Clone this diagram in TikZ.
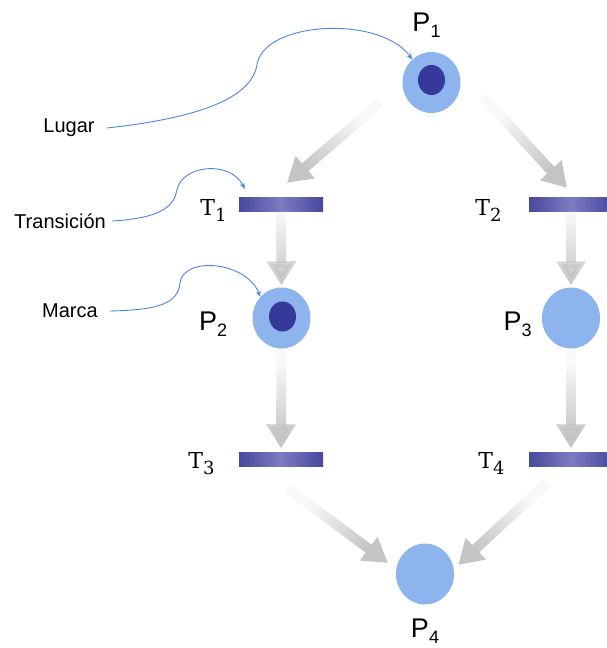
\documentclass[tikz,border=0pt]{standalone}
\usepackage{fontspec}
\newfontfamily\arialfont{Liberation Sans}
\newfontfamily\tserif{DejaVu Serif}
\usetikzlibrary{arrows.meta,positioning,calc,shapes.geometric,fadings}
\definecolor{placeblue}{RGB}{141,180,236}
\definecolor{tokenblue}{RGB}{54,57,154}
\definecolor{transdark}{RGB}{72,72,158}
\definecolor{translight}{RGB}{124,124,194}
\definecolor{notelink}{RGB}{74,134,232}
\definecolor{flowgray}{RGB}{196,196,196}
\newcommand{\subidx}[1]{\raisebox{-6pt}{\fontsize{18}{18}\selectfont #1}}
\begin{tikzfadingfrompicture}[name=arrowfade]
  \fill[transparent!90] (-400bp,-400bp) rectangle (-38bp,400bp);
  \shade[left color=transparent!90, right color=transparent!0] (-38bp,-400bp) rectangle (38bp,400bp);
  \fill[transparent!0] (38bp,-400bp) rectangle (400bp,400bp);
\end{tikzfadingfrompicture}
\tikzset{
  place/.style={ellipse, fill=placeblue, minimum width=58pt, minimum height=61pt, inner sep=0pt},
  token/.style={ellipse, fill=tokenblue, minimum width=27pt, minimum height=30pt, inner sep=0pt},
  trans/.style={rectangle, minimum width=84pt, minimum height=14pt, inner sep=0pt,
    left color=transdark, right color=transdark, middle color=translight},
  plabel/.style={font=\arialfont\fontsize{27}{30}\selectfont, inner sep=0pt},
  tlabel/.style={font=\tserif\fontsize{22}{26}\selectfont, inner sep=0pt},
  note/.style={font=\arialfont\fontsize{20}{24}\selectfont, inner sep=0pt},
  flow/.style={-{Triangle[width=28pt,length=24pt]}, line width=10pt, draw=flowgray,
    path fading=arrowfade, fit fading=false},
  fadealong/.style 2 args={fading transform={shift={#1}, rotate=#2}},
  pointer/.style={-{Stealth[length=6pt,width=5pt]}, line width=0.9pt, draw=notelink}
}
\begin{document}
\begin{tikzpicture}[x=1pt, y=-1pt]
  \useasboundingbox (0,0) rectangle (606,648);

  % Places and marks.
  \node[place] (p1) at (431.5,82.5) {};
  \node[place] (p2) at (281.5,318) {};
  \node[place] (p3) at (571,318) {};
  \node[place] (p4) at (425,574) {};
  \node[token] (m1) at (431.5,80) {};
  \node[token] (m2) at (282.5,316.5) {};

  % Transitions.
  \node[trans] (t1) at (281,204) {};
  \node[trans] (t2) at (571,204) {};
  \node[trans] (t3) at (281,459.5) {};
  \node[trans] (t4) at (571,459.5) {};

  % Labels.
  \node[plabel, above=14pt of p1, xshift=-5pt] (p1l) {P\subidx{1}};
  \node[plabel, left=25pt of p2, yshift=-6pt] (p2l) {P\subidx{2}};
  \node[plabel, left=10pt of p3, yshift=-6pt] (p3l) {P\subidx{3}};
  \node[plabel, below=14pt of p4] (p4l) {P\subidx{4}};
  \node[tlabel, left=12pt of t1, yshift=-6pt] (t1l) {T\subidx{1}};
  \node[tlabel, left=27pt of t2, yshift=-6pt] (t2l) {T\subidx{2}};
  \node[tlabel, left=24pt of t3, yshift=-4pt] (t3l) {T\subidx{3}};
  \node[tlabel, left=24pt of t4, yshift=-4pt] (t4l) {T\subidx{4}};

  % Notes on the left.
  \node[note] (lugar) at (69,128) {Lugar};
  \node[note] (transicion) at (60,221) {Transición};
  \node[note] (marca) at (70,311) {Marca};

  % Free ends of the slanted flows.
  \coordinate (a1s) at ($(p1)+(-51,20)$);
  \coordinate (a1e) at ($(t1.north)+(6,-14)$);
  \coordinate (a2s) at ($(p1)+(52,15)$);
  \coordinate (a2e) at ($(t2.north)+(-4,-9)$);
  \coordinate (a5s) at ($(t3.south)+(7,22)$);
  \coordinate (a5e) at ($(p4.west)+(-8,-11)$);
  \coordinate (a6s) at ($(t4.south)+(-24,16)$);
  \coordinate (a6e) at ($(p4.east)+(4,-9)$);

  % Flow arrows, fading in from their tails.
  \draw[flow, fadealong={($(a1s)!0.5!(a1e)$)}{221}] (a1s) -- (a1e);
  \draw[flow, fadealong={($(a2s)!0.5!(a2e)$)}{-47}] (a2s) -- (a2e);
  \draw[flow, shorten >=2pt, fadealong={($(t1.south)!0.5!(p2.north)$)}{-90}] (t1.south) -- (p2.north);
  \draw[flow, shorten >=2pt, fadealong={($(t2.south)!0.5!(p3.north)$)}{-90}] (t2.south) -- (p3.north);
  \draw[flow, shorten >=4pt, fadealong={($(p2.south)!0.5!(t3.north)$)}{-90}] (p2.south) -- (t3.north);
  \draw[flow, shorten >=4pt, fadealong={($(p3.south)!0.5!(t4.north)$)}{-90}] (p3.south) -- (t4.north);
  \draw[flow, fadealong={($(a5s)!0.5!(a5e)$)}{-37}] (a5s) -- (a5e);
  \draw[flow, fadealong={($(a6s)!0.5!(a6e)$)}{223}] (a6s) -- (a6e);

  % Pointers from the notes.
  \draw[pointer] ($(lugar.east)+(12,0)$) .. controls +(83,-9) and +(-7,35) .. ++(150,-62)
    .. controls +(5,-45) and +(-32,-45) .. (p1.130);
  \draw[pointer] ($(transicion.east)+(6,0)$) .. controls +(52,-3) and +(-3,15) .. ++(65,-31)
    .. controls +(5,-25) and +(-15,-29) .. ($(t1.north west)+(6,-8)$);
  \draw[pointer] ($(marca.east)+(12,0)$) .. controls +(50,-1) and +(-2,20) .. ++(70,-28)
    .. controls +(3,-27) and +(-14,-36) .. (p2.135);
\end{tikzpicture}
\end{document}
